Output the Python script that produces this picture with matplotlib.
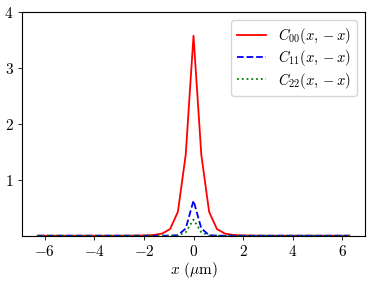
import numpy as np
import matplotlib
matplotlib.use("Agg")
import matplotlib.pyplot as plt

plt.rcParams['mathtext.fontset'] = 'cm'
plt.rcParams['font.family'] = 'serif'
plt.rcParams['font.serif'] = ['cmr10', 'DejaVu Serif']
plt.rcParams['axes.unicode_minus'] = False

# 41 grid points from -2*pi to 2*pi
x = np.linspace(-2 * np.pi, 2 * np.pi, 41)

c00_half = [3.58, 1.45, 0.43, 0.12, 0.04, 0.015, 0.006, 0.003, 0.001, 0.0005,
            0.0, 0.0, 0.0, 0.0, 0.0, 0.0, 0.0, 0.0, 0.0, 0.0, 0.0]
c11_half = [0.63, 0.13, 0.01, 0.001, 0.0, 0.0, 0.0, 0.0, 0.0, 0.0,
            0.0, 0.0, 0.0, 0.0, 0.0, 0.0, 0.0, 0.0, 0.0, 0.0, 0.0]
c22_half = [0.29, 0.06, 0.005, 0.0, 0.0, 0.0, 0.0, 0.0, 0.0, 0.0,
            0.0, 0.0, 0.0, 0.0, 0.0, 0.0, 0.0, 0.0, 0.0, 0.0, 0.0]

def full(h):
    return np.array(h[:0:-1] + h)

c00 = full(c00_half)
c11 = full(c11_half)
c22 = full(c22_half)

xticks = [-6, -4, -2, 0, 2, 4, 6]
yticks = [1, 2, 3, 4]

fig = plt.figure(figsize=(3.73, 2.84), dpi=100)
ax = fig.add_axes([0.059, 0.17, 0.9196, 0.7867])

ax.plot(x, c00, color='red', lw=1.3, ls='-', label=r'$C_{00}(x,-x)$')
ax.plot(x, c11, color='blue', lw=1.3, ls='--', label=r'$C_{11}(x,-x)$')
ax.plot(x, c22, color='green', lw=1.3, ls=':', label=r'$C_{22}(x,-x)$')

ax.set_ylim(0, 4)
ax.set_xticks(xticks)
ax.set_xticklabels([f'${v}$' for v in xticks], fontsize=11)
ax.set_yticks(yticks)
ax.set_yticklabels([f'${v}$' for v in yticks], fontsize=11)
ax.tick_params(direction='out', length=3, width=0.6, pad=3)
for s in ax.spines.values():
    s.set_linewidth(0.8)
ax.set_xlabel(r'$x\ (\mu\mathrm{m})$', fontsize=11, labelpad=1)
ax.legend(loc='upper right', fontsize=10.5, framealpha=0.8,
          borderaxespad=0.55, handlelength=2.0, labelspacing=0.15)

fig.savefig('out.png', dpi=100)
